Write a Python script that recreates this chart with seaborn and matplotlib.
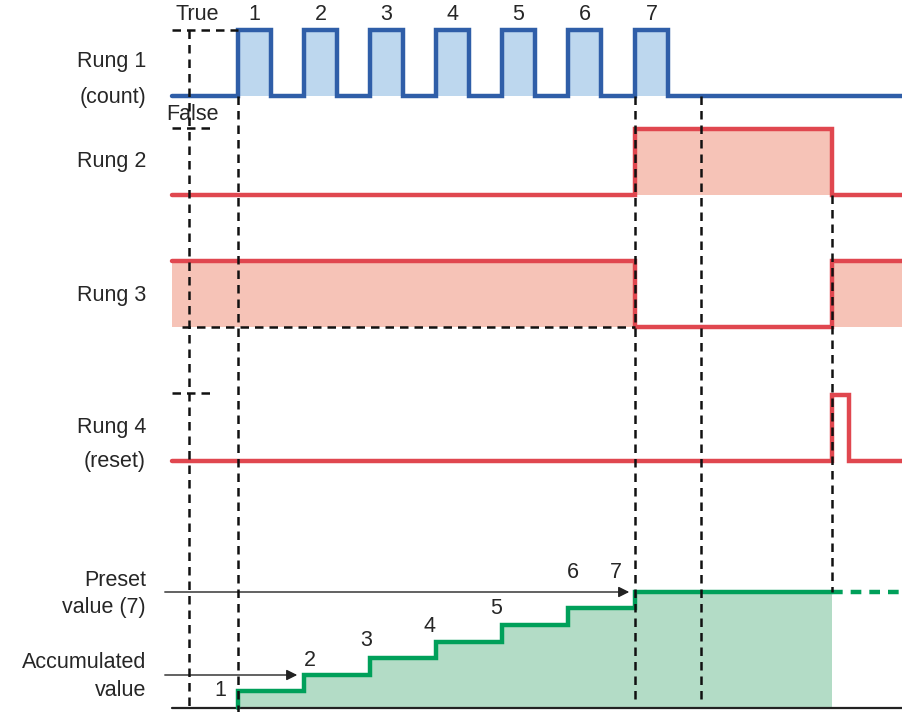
import matplotlib
matplotlib.use('Agg')
import matplotlib.pyplot as plt
import seaborn as sns

# count input (rung 1): rising and falling edges of the seven pulses
count_rise = [238, 304, 370, 436, 502, 568, 635]
count_fall = [271, 337, 403, 469, 535, 601, 668]
pulse_labels = ['1', '2', '3', '4', '5', '6', '7']

# rung 2 / 3 / 4 state changes (time, state after the edge)
rung2_edges = [172, 635, 832, 902]
rung2_state = [0, 1, 0, 0]
rung3_edges = [172, 635, 832, 902]
rung3_state = [1, 0, 1, 1]
rung4_edges = [172, 832, 849, 902]
rung4_state = [0, 1, 0, 0]

# accumulated value of the counter
acc_edges = [238, 238, 304, 370, 436, 502, 568, 635, 832]
acc_values = [0, 1, 2, 3, 4, 5, 6, 7, 7]
preset_value = 7
t_end = 902

# colours
BLUE, BLUE_FILL = '#2f5ea8', '#bdd7ee'
RED, RED_FILL = '#e0474f', '#f6c3b7'
GREEN, GREEN_FILL = '#00a05a', '#b3dcc6'

sns.set_style('white')
plt.rcParams['font.family'] = ['Liberation Sans', 'DejaVu Sans']

fig = plt.figure(figsize=(9.02, 7.12), dpi=100)
ax = fig.add_axes([0, 0, 1, 1])
ax.set_xlim(0, 902)
ax.set_ylim(712, 0)
ax.axis('off')

HIGH = 66        # height of a "true" level
LW = 3.2
FS = 15.5


def draw_rung(edges, states, base, color, fill):
    ys = [base - s * HIGH for s in states]
    ax.fill_between(edges, base, ys, step='post', color=fill, lw=0, zorder=1)
    sns.lineplot(x=edges, y=ys, drawstyle='steps-post', sort=False,
                 estimator=None, color=color, lw=LW, ax=ax, zorder=3,
                 solid_joinstyle='miter')


# rung 1 built from the pulse edges
r1_edges = [172]
r1_state = [0]
for r, f in zip(count_rise, count_fall):
    r1_edges += [r, f]
    r1_state += [1, 0]
r1_edges.append(t_end)
r1_state.append(0)

draw_rung(r1_edges, r1_state, 96, BLUE, BLUE_FILL)
draw_rung(rung2_edges, rung2_state, 195, RED, RED_FILL)
draw_rung(rung3_edges, rung3_state, 327, RED, RED_FILL)
draw_rung(rung4_edges, rung4_state, 461, RED, 'none')

for r, f, lab in zip(count_rise, count_fall, pulse_labels):
    ax.text((r + f) / 2, 15, lab, ha='center', va='center', fontsize=FS)

# accumulated value staircase
ACC_BASE, STEP = 708, 16.6
acc_y = [ACC_BASE - v * STEP for v in acc_values]
ax.fill_between(acc_edges, ACC_BASE, acc_y, step='post', color=GREEN_FILL, lw=0, zorder=1)
sns.lineplot(x=acc_edges, y=acc_y, drawstyle='steps-post', sort=False,
             estimator=None, color=GREEN, lw=LW, ax=ax, zorder=3,
             solid_joinstyle='miter')
preset_y = ACC_BASE - preset_value * STEP
ax.plot([acc_edges[-1], t_end], [preset_y, preset_y], color=GREEN, lw=LW,
        dashes=(2.4, 1.8), zorder=3)
ax.plot([172, t_end], [ACC_BASE, ACC_BASE], color='#222222', lw=1.6, zorder=2)

count_pos = [(220, 691), (310, 660), (366, 641), (430, 627), (496, 609), (573, 573), (616, 573)]
for (x, y), lab in zip(count_pos, pulse_labels):
    ax.text(x, y, lab, ha='center', va='center', fontsize=FS)

# dashed timing guides
dash = dict(color='#111111', lw=1.8, dashes=(3.4, 2.4), zorder=4)
for x, y0, y1 in [(189, 30, 712), (238, 96, 712), (635, 96, 702),
                  (701, 96, 702), (832, 195, 592)]:
    ax.plot([x, x], [y0, y1], **dash)
for x0, x1, y in [(172, 238, 30), (172, 215, 128), (172, 215, 393), (182, 635, 327)]:
    ax.plot([x0, x1], [y, y], **dash)

# arrows to preset and accumulated value
arrow = dict(arrowstyle='-|>', color='#222222', lw=1.0, mutation_scale=16)
ax.annotate('', xy=(632, 592), xytext=(162, 592), arrowprops=arrow)
ax.annotate('', xy=(300, 675), xytext=(162, 675), arrowprops=arrow)

# labels
ax.text(197, 15, 'True', ha='center', va='center', fontsize=FS)
ax.text(192, 114, 'False', ha='center', va='center', fontsize=FS)
for y, s in [(62, 'Rung 1'), (97, '(count)'), (162, 'Rung 2'), (296, 'Rung 3'),
             (428, 'Rung 4'), (462, '(reset)'), (580, 'Preset'), (607, 'value (7)'),
             (662, 'Accumulated'), (690, 'value')]:
    ax.text(146, y, s, ha='right', va='center', fontsize=FS)

fig.savefig('out.png', dpi=100)
